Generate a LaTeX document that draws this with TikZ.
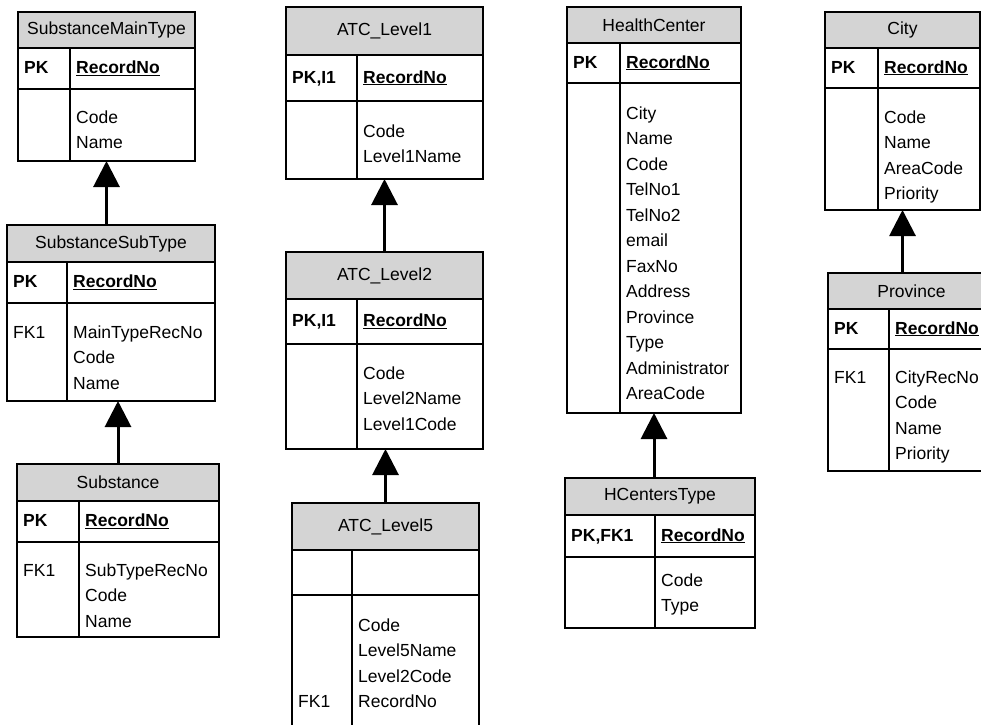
\documentclass[tikz,border=0pt]{standalone}
\usepackage{fontspec}
\setmainfont{Liberation Sans}
\usetikzlibrary{arrows.meta}

\definecolor{hdrgray}{gray}{0.83}
\newcommand{\tabfont}{\fontsize{17.5pt}{25.5pt}\selectfont}

% one table: name, left, top, right, divider, header bottom, key bottom, bottom, title
\newcommand{\erbox}[9]{%
  \node[hdr, minimum width={(#4-#2)*1pt}, minimum height={(#6-#3)*1pt}] (#1-h) at (#2,#3) {#9};
  \node[frame, minimum width={(#4-#2)*1pt}, minimum height={(#8-#3)*1pt}] (#1) at (#2,#3) {};
  \draw[rule] (#2,#7) -- (#4,#7) (#5,#6) -- (#5,#8);
  \coordinate (#1-kb) at (#2+6,{(#6+#7)/2+5});
  \coordinate (#1-fb) at (#5+6,{(#6+#7)/2+5});
  \coordinate (#1-kc) at (#2+6,#7);
  \coordinate (#1-fc) at (#5+6,#7);
}
% its texts: name, key, key field, fk column, fields, baseline offset
\newcommand{\erfields}[6]{%
  \node[keytxt] (#1-key) at (#1-kb) {\textbf{#2}};
  \node[keytxt] (#1-kf) at (#1-fb) {\textbf{\underline{#3}}};
  \node[list] (#1-fk) at ([yshift={-(#6-17.85)*1pt}]#1-kc) {\strut #4};
  \node[list] (#1-fl) at ([yshift={-(#6-17.85)*1pt}]#1-fc) {\strut #5};
}

\begin{document}
\begin{tikzpicture}[x=1pt,y=-1pt,
  hdr/.style={draw,fill=hdrgray,anchor=north west,inner sep=0pt,outer sep=0pt,line width=1.5pt,font=\tabfont},
  frame/.style={draw,anchor=north west,inner sep=0pt,outer sep=0pt,line width=1.5pt},
  rule/.style={line width=1.5pt},
  keytxt/.style={anchor=base west,inner sep=0pt,font=\tabfont},
  list/.style={anchor=north west,inner sep=0pt,align=left,font=\tabfont},
  isa/.style={line width=3pt,-{Triangle[width=26pt,length=26pt]}}]
\useasboundingbox (0,0) rectangle (981,724);
\clip (0,0) rectangle (981,724);

% substances
\erbox{smt}{18}{12}{195}{70}{48}{89}{161}{SubstanceMainType}
\erfields{smt}{PK}{RecordNo}{}{Code\\Name}{34}
\erbox{sst}{7}{225}{215}{67}{262}{303}{401}{SubstanceSubType}
\erfields{sst}{PK}{RecordNo}{FK1}{MainTypeRecNo\\Code\\Name}{35}
\erbox{sub}{17}{464}{219}{79}{501}{542}{637}{Substance}
\erfields{sub}{PK}{RecordNo}{FK1}{SubTypeRecNo\\Code\\Name}{34}

% ATC levels
\erbox{atc1}{286}{7}{483}{357}{55}{101}{179}{ATC\_Level1}
\erfields{atc1}{PK,I1}{RecordNo}{}{Code\\Level1Name}{36}
\erbox{atc2}{286}{252}{483}{357}{299}{344}{449}{ATC\_Level2}
\erfields{atc2}{PK,I1}{RecordNo}{}{Code\\Level2Name\\Level1Code}{35}
\erbox{atc5}{292}{503}{479}{352}{550}{595}{740}{ATC\_Level5}
\erfields{atc5}{}{}{\\\\\\FK1}{Code\\Level5Name\\Level2Code\\RecordNo}{36}

% health centers
\erbox{hc}{567}{7}{741}{620}{43}{83}{413}{HealthCenter}
\erfields{hc}{PK}{RecordNo}{}{City\\Name\\Code\\TelNo1\\TelNo2\\email\\FaxNo\\Address\\Province\\Type\\Administrator\\AreaCode}{36}
\erbox{hct}{565}{478}{755}{655}{515}{557}{628}{HCentersType}
\erfields{hct}{PK,FK1}{RecordNo}{}{Code\\Type}{29}

% cities
\erbox{city}{825}{12}{980}{878}{48}{88}{210}{City}
\erfields{city}{PK}{RecordNo}{}{Code\\Name\\AreaCode\\Priority}{35}
\erbox{prov}{828}{273}{995}{889}{309}{349}{471}{Province}
\erfields{prov}{PK}{RecordNo}{FK1}{CityRecNo\\Code\\Name\\Priority}{34}

\draw[isa] (sst.north -| smt.south) -- (smt.south);
\draw[isa] (sub.north) -- (sub.north |- sst.south);
\draw[isa] (atc2.north) -- (atc1.south);
\draw[isa] (atc5.north) -- (atc5.north |- atc2.south);
\draw[isa] (hct.north -| hc.south) -- (hc.south);
\draw[isa] (prov.north -| city.south) -- (city.south);
\end{tikzpicture}
\end{document}
